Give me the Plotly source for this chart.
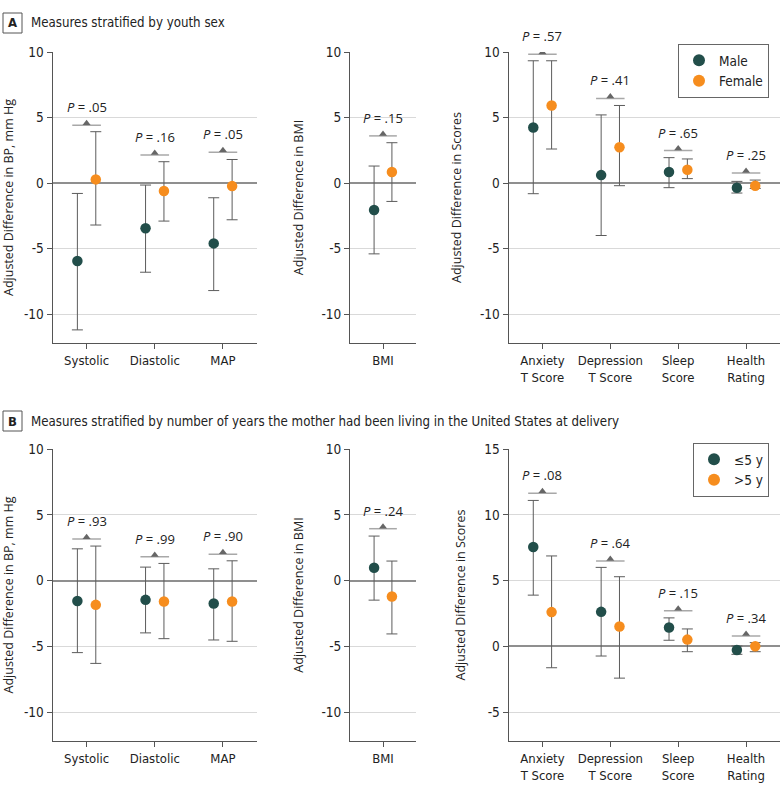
import plotly.graph_objects as go

W, H = 780, 789

# ---------------- DATA ----------------
bp_cats = ["Systolic", "Diastolic", "MAP"]
bmi_cats = ["BMI"]
score_cats = ["Anxiety<br>T Score", "Depression<br>T Score", "Sleep<br>Score", "Health<br>Rating"]

# Panel A: youth sex
a_bp_male_est = [-5.95, -3.45, -4.6]
a_bp_male_lo = [-11.2, -6.8, -8.2]
a_bp_male_hi = [-0.79, -0.15, -1.12]
a_bp_female_est = [0.28, -0.61, -0.23]
a_bp_female_lo = [-3.2, -2.9, -2.8]
a_bp_female_hi = [3.92, 1.63, 1.8]
a_bp_p = [".05", ".16", ".05"]
a_bp_bracket = [4.42, 2.14, 2.35]

a_bmi_male_est = [-2.06]
a_bmi_male_lo = [-5.4]
a_bmi_male_hi = [1.3]
a_bmi_female_est = [0.84]
a_bmi_female_lo = [-1.4]
a_bmi_female_hi = [3.08]
a_bmi_p = [".15"]
a_bmi_bracket = [3.6]

a_sc_male_est = [4.24, 0.61, 0.84, -0.35]
a_sc_male_lo = [-0.81, -4.0, -0.35, -0.76]
a_sc_male_hi = [9.33, 5.2, 1.94, 0.13]
a_sc_female_est = [5.92, 2.73, 1.02, -0.2]
a_sc_female_lo = [2.6, -0.2, 0.34, -0.41]
a_sc_female_hi = [9.33, 5.92, 1.84, 0.23]
a_sc_p = [".57", ".41", ".65", ".25"]
a_sc_bracket = [9.82, 6.46, 2.48, 0.77]

# Panel B: years mother living in US
b_bp_le5_est = [-1.55, -1.47, -1.75]
b_bp_le5_lo = [-5.48, -3.98, -4.52]
b_bp_le5_hi = [2.41, 1.02, 0.89]
b_bp_gt5_est = [-1.85, -1.6, -1.6]
b_bp_gt5_lo = [-6.3, -4.42, -4.62]
b_bp_gt5_hi = [2.62, 1.3, 1.5]
b_bp_p = [".93", ".99", ".90"]
b_bp_bracket = [3.15, 1.8, 2.0]

b_bmi_le5_est = [0.97]
b_bmi_le5_lo = [-1.49]
b_bmi_le5_hi = [3.38]
b_bmi_gt5_est = [-1.22]
b_bmi_gt5_lo = [-4.06]
b_bmi_gt5_hi = [1.48]
b_bmi_p = [".24"]
b_bmi_bracket = [3.94]

b_sc_le5_est = [7.55, 2.62, 1.43, -0.28]
b_sc_le5_lo = [3.89, -0.74, 0.46, -0.61]
b_sc_le5_hi = [11.09, 6.0, 2.16, 0.02]
b_sc_gt5_est = [2.6, 1.5, 0.51, 0.0]
b_sc_gt5_lo = [-1.63, -2.42, -0.41, -0.41]
b_sc_gt5_hi = [6.87, 5.29, 1.32, 0.28]
b_sc_p = [".08", ".64", ".15", ".34"]
b_sc_bracket = [11.63, 6.49, 2.7, 0.79]

# ---------------- STYLE ----------------
C1 = "#224e4a"
C2 = "#f68d1e"
ERR = "#5c5c5c"
BRK = "#a8a8a8"
TRI = "#666666"
NARROW = "Liberation Sans Narrow, DejaVu Sans Condensed, Roboto, sans-serif"
REG = "Open Sans, Noto Sans, sans-serif"
OFF = 0.135
BHW = 0.21

fig = go.Figure()


def px_x(a, b):
    return [a / W, b / W]


def px_y(top, bottom):
    return [1 - bottom / H, 1 - top / H]


def add_subplot(idx, cats, g1, g2, pvals, brackets, names, legend, show_leg):
    xa = "x" if idx == 1 else f"x{idx}"
    ya = "y" if idx == 1 else f"y{idx}"
    pos = list(range(len(cats)))
    for (est, lo, hi), col, name, sgn in ((g1, C1, names[0], -1), (g2, C2, names[1], 1)):
        fig.add_trace(go.Scatter(
            x=[p + sgn * OFF for p in pos], y=est, mode="markers",
            marker=dict(color=col, size=10.5),
            error_y=dict(type="data", symmetric=False,
                         array=[h - e for h, e in zip(hi, est)],
                         arrayminus=[e - l for e, l in zip(est, lo)],
                         color=ERR, thickness=1, width=5.5),
            name=name, legend=legend, showlegend=show_leg,
            xaxis=xa, yaxis=ya, hoverinfo="skip"))
    # brackets
    bx, by = [], []
    for p, b in zip(pos, brackets):
        bx += [p - BHW, p + BHW, None]
        by += [b, b, None]
    fig.add_trace(go.Scatter(x=bx, y=by, mode="lines", line=dict(color=BRK, width=1.5),
                             showlegend=False, xaxis=xa, yaxis=ya, hoverinfo="skip"))
    fig.add_trace(go.Scatter(x=pos, y=[b + 0.15 for b in brackets], mode="markers",
                             marker=dict(symbol="triangle-up", size=7, color=TRI),
                             showlegend=False, xaxis=xa, yaxis=ya, hoverinfo="skip"))
    for p, b, pv in zip(pos, brackets, pvals):
        fig.add_annotation(x=p, y=b, xref=xa, yref=ya, text=f"<i>P</i> = {pv}",
                           showarrow=False, yanchor="bottom", yshift=7,
                           font=dict(family=REG, size=13, color="#222"))


def axes(idx, cats, xdom, ydom, yrange, title, xrange_end):
    xk = "xaxis" if idx == 1 else f"xaxis{idx}"
    yk = "yaxis" if idx == 1 else f"yaxis{idx}"
    ya = "y" if idx == 1 else f"y{idx}"
    xa = "x" if idx == 1 else f"x{idx}"
    fig.layout[xk] = dict(domain=xdom, range=[-0.5, xrange_end], anchor=ya,
                          tickvals=list(range(len(cats))), ticktext=cats,
                          showgrid=False, zeroline=False, showline=True,
                          linecolor="#555", linewidth=1, ticks="outside",
                          ticklen=5, tickcolor="#555", automargin=False,
                          tickfont=dict(family=NARROW, size=13, color="#222"),
                          fixedrange=True)
    fig.layout[yk] = dict(domain=ydom, range=yrange, anchor=xa,
                          tickvals=[-10, -5, 0, 5, 10, 15], ticktext=["-10", "-5", "0", "5", "10", "15"],
                          showgrid=True, gridcolor="#d9d9d9", gridwidth=1,
                          zeroline=True, zerolinecolor="#8f8f8f", zerolinewidth=1.5,
                          showline=True, linecolor="#555", linewidth=1,
                          ticks="outside", ticklen=5, tickcolor="#555", automargin=False,
                          tickfont=dict(family=NARROW, size=13.5, color="#222"),
                          title=dict(text=title, font=dict(family=REG, size=12.5, color="#222")),
                          fixedrange=True)


yA = px_y(52, 343)
yB = px_y(449, 741)
xL = px_x(52.5, 257)
xM = px_x(350, 416)
xR = px_x(508.5, 780)

add_subplot(1, bp_cats, (a_bp_male_est, a_bp_male_lo, a_bp_male_hi),
            (a_bp_female_est, a_bp_female_lo, a_bp_female_hi), a_bp_p, a_bp_bracket,
            ["Male", "Female"], "legend", False)
add_subplot(2, bmi_cats, (a_bmi_male_est, a_bmi_male_lo, a_bmi_male_hi),
            (a_bmi_female_est, a_bmi_female_lo, a_bmi_female_hi), a_bmi_p, a_bmi_bracket,
            ["Male", "Female"], "legend", False)
add_subplot(3, score_cats, (a_sc_male_est, a_sc_male_lo, a_sc_male_hi),
            (a_sc_female_est, a_sc_female_lo, a_sc_female_hi), a_sc_p, a_sc_bracket,
            ["Male", "Female"], "legend", True)
add_subplot(4, bp_cats, (b_bp_le5_est, b_bp_le5_lo, b_bp_le5_hi),
            (b_bp_gt5_est, b_bp_gt5_lo, b_bp_gt5_hi), b_bp_p, b_bp_bracket,
            ["≤5 y", ">5 y"], "legend2", False)
add_subplot(5, bmi_cats, (b_bmi_le5_est, b_bmi_le5_lo, b_bmi_le5_hi),
            (b_bmi_gt5_est, b_bmi_gt5_lo, b_bmi_gt5_hi), b_bmi_p, b_bmi_bracket,
            ["≤5 y", ">5 y"], "legend2", False)
add_subplot(6, score_cats, (b_sc_le5_est, b_sc_le5_lo, b_sc_le5_hi),
            (b_sc_gt5_est, b_sc_gt5_lo, b_sc_gt5_hi), b_sc_p, b_sc_bracket,
            ["≤5 y", ">5 y"], "legend2", True)

axes(1, bp_cats, xL, yA, [-12.2, 10], "Adjusted Difference in BP, mm Hg", 2.5)
axes(2, bmi_cats, xM, yA, [-12.2, 10], "Adjusted Difference in BMI", 0.5)
axes(3, score_cats, xR, yA, [-12.2, 10], "Adjusted Difference in Scores", 3.5)
axes(4, bp_cats, xL, yB, [-12.2, 10], "Adjusted Difference in BP, mm Hg", 2.5)
axes(5, bmi_cats, xM, yB, [-12.2, 10], "Adjusted Difference in BMI", 0.5)
axes(6, score_cats, xR, yB, [-7.2, 15], "Adjusted Difference in Scores", 3.5)

# headers
for letter, text, cy in (("A", "Measures stratified by youth sex", 23),
                         ("B", "Measures stratified by number of years the mother had been living in the United States at delivery", 421)):
    fig.add_shape(type="rect", xref="paper", yref="paper",
                  x0=3 / W, x1=22 / W, y0=1 - (cy + 10) / H, y1=1 - (cy - 10) / H,
                  line=dict(color="#555", width=1), fillcolor="white")
    fig.add_annotation(xref="paper", yref="paper", x=12.5 / W, y=1 - cy / H, text=f"<b>{letter}</b>",
                       showarrow=False, xanchor="center", yanchor="middle",
                       font=dict(family=NARROW, size=13, color="#222"))
    fig.add_annotation(xref="paper", yref="paper", x=29 / W, y=1 - cy / H, text=text,
                       showarrow=False, xanchor="left", yanchor="middle",
                       font=dict(family=NARROW, size=13.2, color="#222"))

leg_common = dict(xanchor="right", yanchor="top", bordercolor="#666", borderwidth=1,
                  bgcolor="white", font=dict(family=NARROW, size=13.5, color="#222"),
                  tracegroupgap=0, itemsizing="constant", itemwidth=30)
fig.update_layout(
    width=W, height=H, margin=dict(l=0, r=0, t=0, b=0, autoexpand=False),
    paper_bgcolor="white", plot_bgcolor="white",
    legend=dict(x=769 / W, y=1 - 44 / H, **leg_common),
    legend2=dict(x=769 / W, y=1 - 443 / H, **leg_common),
)

fig.write_html(
    "out.html",
    config={"displayModeBar": False},
    post_script="document.body.style.margin='0px';document.body.style.padding='0px';document.body.style.overflow='hidden';",
)
